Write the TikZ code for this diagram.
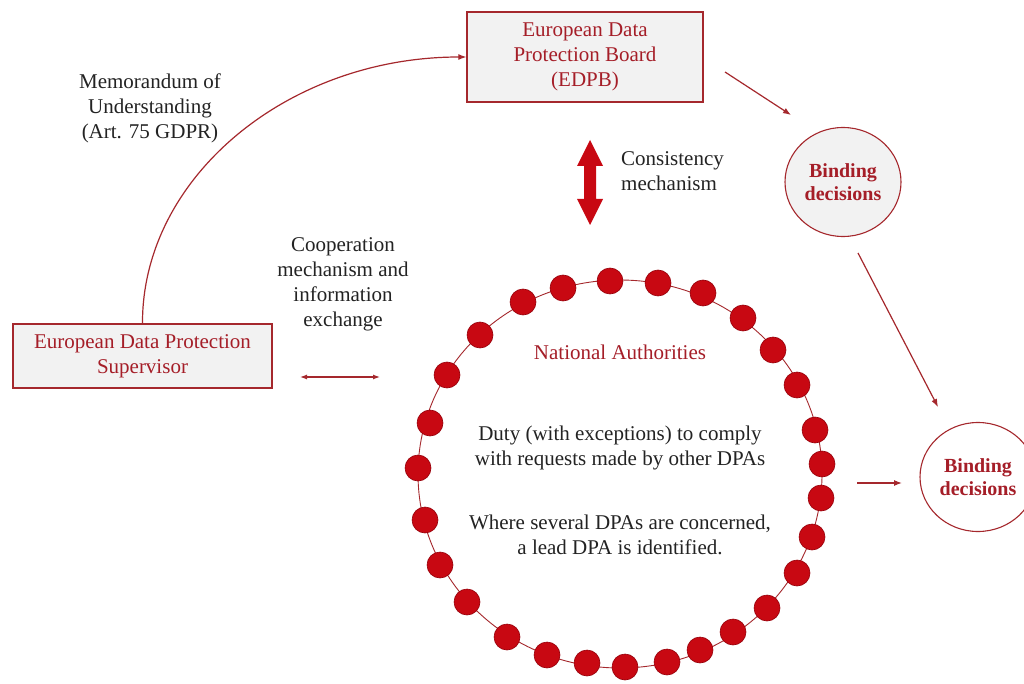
\documentclass[tikz,border=0pt]{standalone}
\usepackage{fontspec}
\setmainfont{Liberation Serif}
\usetikzlibrary{arrows.meta,shapes.geometric}
\definecolor{rtext}{RGB}{165,30,40}
\definecolor{rline}{RGB}{165,40,45}
\definecolor{dotfill}{RGB}{200,8,18}
\definecolor{dotdraw}{RGB}{150,0,10}
\definecolor{boxfill}{RGB}{242,242,242}
\definecolor{txt}{RGB}{35,35,35}
\begin{document}
\begin{tikzpicture}[x=1pt,y=-1pt,
  base/.style={font=\fontsize{21}{25}\selectfont},
  box/.style={base, draw=rline, line width=1.3pt, fill=boxfill, text=rtext, align=center, inner sep=0pt},
  bcirc/.style={ellipse, draw=rline, line width=1.1pt, text=rtext, align=center, inner sep=0pt,
     minimum width=116pt, minimum height=109pt, font=\fontsize{20}{23}\selectfont\bfseries},
  lbl/.style={base, text=txt, align=center, inner sep=0pt},
  dot/.style={circle, fill=dotfill, draw=dotdraw, line width=0.6pt, minimum size=26pt, inner sep=0pt},
  arr/.style={draw=rline, line width=1.2pt, -{Latex[length=8pt,width=6pt]}},
]
\useasboundingbox (0,0) rectangle (1024,684);
\fill[white] (0,0) rectangle (1024,684);

% boxes
\node[box, minimum width=236pt, minimum height=90pt] (edpb) at (585,57) {European Data\\Protection Board\\(EDPB)};
\node[box, minimum width=259pt, minimum height=64pt] (edps) at (142.5,356) {European Data Protection\\Supervisor};

% binding decisions circles
\node[bcirc, fill=boxfill] (bd1) at (843,182) {Binding\\decisions};
\node[bcirc, fill=white] (bd2) at (978,477) {Binding\\decisions};

% ring
\node[ellipse, draw=rline, line width=0.9pt, minimum width=404pt, minimum height=388pt, inner sep=0pt] (ring) at (620,474) {};
\foreach \x/\y [count=\i] in {523/302,563/288,610/281,658/283,703/293,743/318,773/350,797/385,
  815/430,822/464,821/498,812/537,797/573,767/608,733/632,700/650,667/662,625/667,587/663,547/655,
  507/637,467/602,440/565,425/520,418/468,430/423,447/375,480/335}
  \node[dot] (d\i) at (\x,\y) {};

\node[base, text=rtext, inner sep=0pt] (na) at (620,352) {National Authorities};
\node[lbl] (duty) at (620,447.5) {Duty (with exceptions) to comply\\with requests made by other DPAs};
\node[lbl] (lead) at (620,535) {Where several DPAs are concerned,\\a lead DPA is identified.};

% labels
\node[lbl] (memo) at (150,108) {Memorandum of\\Understanding\\(Art. 75 GDPR)};
\node[lbl] (coop) at (343,284.5) {Cooperation\\mechanism and\\information\\exchange};
\node[lbl, align=left, anchor=west] (cons) at (621,171) {Consistency\\mechanism};

% memorandum curve
\draw[arr] (edps.north) .. controls (142,178) and (287,57) .. (edpb.west);

% cooperation double arrow
\coordinate (c1) at (300,377);
\coordinate (c2) at (380,377);
\draw[arr, {Latex[length=7pt,width=5pt]}-{Latex[length=7pt,width=5pt]}] (c1) -- (c2);

% consistency thick double arrow
\fill[dotfill] (590,140) -- (603,166) -- (596,166) -- (596,199) -- (603,199) -- (590,225)
  -- (577,199) -- (584,199) -- (584,166) -- (577,166) -- cycle;

% binding arrows
\coordinate (a1s) at (725,72);
\coordinate (a1e) at (791,115);
\draw[arr] (a1s) -- (a1e);
\coordinate (a2s) at (858,253);
\coordinate (a2e) at (938,407);
\draw[arr] (a2s) -- (a2e);
\coordinate (a3s) at (857,483);
\coordinate (a3e) at (902,483);
\draw[arr] (a3s) -- (a3e);
\end{tikzpicture}
\end{document}
